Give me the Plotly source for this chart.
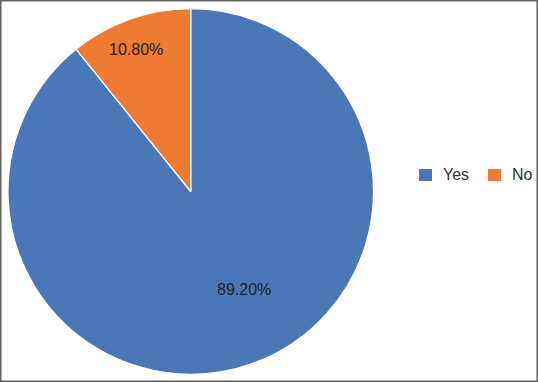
import plotly.graph_objects as go

labels = ["Yes", "No"]
values = [89.2, 10.8]
colors = ["#4a78b7", "#ef7b32"]

# styling positions (pixels from top-left)
label_pos = [(244, 289), (136, 49)]
legend_x = [419, 488]        # left edge of each legend swatch
legend_y = 175               # vertical centre of legend row

W, H = 538, 382
FONT = "Liberation Sans, Arial, sans-serif"

fig = go.Figure(go.Pie(
    labels=labels,
    values=values,
    sort=False,
    direction="clockwise",
    rotation=0,
    marker=dict(colors=colors, line=dict(color="white", width=1.2)),
    textinfo="none",
    showlegend=False,
    domain=dict(x=[8 / W, 373.5 / W], y=[(H - 374.5) / H, (H - 8.5) / H]),
    hoverinfo="label+percent",
))

annotations = []
shapes = [dict(type="rect", xref="paper", yref="paper", x0=0, y0=0, x1=1, y1=1,
               line=dict(color="#5f5f5f", width=3))]

for v, (px, py) in zip(values, label_pos):
    annotations.append(dict(
        x=px / W, y=(H - py) / H, xref="paper", yref="paper",
        text=f"{v:.2f}%", showarrow=False, xanchor="center", yanchor="middle",
        font=dict(family=FONT, size=16, color="#222222"),
    ))

# legend drawn manually to match swatch size/spacing
for lab, col, lx in zip(labels, colors, legend_x):
    shapes.append(dict(type="rect", xref="paper", yref="paper",
                       x0=lx / W, x1=(lx + 13) / W,
                       y0=(H - legend_y - 6) / H, y1=(H - legend_y + 6) / H,
                       fillcolor=col, line=dict(width=0)))
    annotations.append(dict(
        x=(lx + 22) / W, y=(H - legend_y) / H, xref="paper", yref="paper",
        text=lab, showarrow=False, xanchor="left", yanchor="middle",
        font=dict(family=FONT, size=16, color="#333333"),
    ))

fig.update_layout(
    width=W, height=H,
    margin=dict(l=0, r=0, t=0, b=0),
    paper_bgcolor="white",
    annotations=annotations,
    shapes=shapes,
)

fig.write_html("out.html", config={"displayModeBar": False},
               post_script="document.body.style.margin='0';document.body.style.overflow='hidden';")
